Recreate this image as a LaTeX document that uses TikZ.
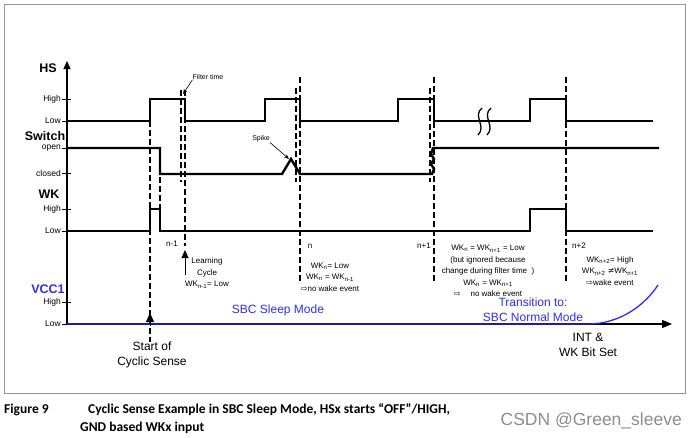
\documentclass[tikz,border=0pt]{standalone}
\usepackage{fontspec}
\setmainfont{Liberation Sans}
\newfontfamily\capfont{Carlito}
\newfontfamily\symfont{DejaVu Sans}
\usetikzlibrary{arrows.meta}

\definecolor{vccblue}{RGB}{45,45,250}
\definecolor{framegray}{RGB}{150,150,150}

\tikzset{
  sig/.style={line width=2.4pt, line join=miter},
  marker/.style={line width=1.6pt, dash pattern=on 6pt off 3pt},
  lvl/.style={anchor=east, font=\fontsize{8.5}{8.5}\selectfont, inner sep=0pt},
  axlabel/.style={font=\fontsize{12.5}{12.5}\selectfont\bfseries, inner sep=0pt},
  note/.style={font=\fontsize{8}{11.5}\selectfont, align=center, inner sep=0pt},
  tiny/.style={font=\fontsize{7}{7}\selectfont, inner sep=0pt},
  big/.style={font=\fontsize{12}{15}\selectfont, align=center, inner sep=0pt},
  capnode/.style={font=\capfont\bfseries\fontsize{13.5}{13.5}\selectfont, anchor=west, inner sep=0pt},
}

\begin{document}
\begin{tikzpicture}[x=1pt, y=-1pt]
		\useasboundingbox (0,0) rectangle (692,437);
		
		% Frame
		\draw[framegray, line width=1pt] (4,4) rectangle (685,393);
		
		% Axes
		\coordinate (origin) at (67,324);
		\coordinate (ytop) at (67,61);
		\coordinate (xend) at (672,324);
		\draw[line width=1.1pt, -{Triangle[length=8pt,width=7pt]}] (origin) -- (ytop);
		\draw[line width=1.1pt, -{Triangle[length=10pt,width=8pt]}] (origin) -- (xend);
		
		% Levels
		\foreach \y/\t/\n in {99/High/hshigh, 121/Low/hslow, 148/open/swopen, 173/closed/swclosed,
		                      209/High/wkhigh, 231/Low/wklow, 302/High/vcchigh, 324/Low/vcclow} {
			\draw[line width=1pt] (62,\y) -- (71,\y);
			\node[lvl] (\n) at (61,\y) {\t};
		}
		\node[axlabel] (hs) at (48,68) {HS};
		\node[axlabel] (switch) at (45,136) {Switch};
		\node[axlabel] (wk) at (49,194) {WK};
		\node[axlabel, text=vccblue] (vcc) at (48,289) {VCC1};
		
		% Dashed lines
		\draw[marker] (150,121) -- (150,342);
		\draw[marker] (160,150) -- (160,231);
		\draw[marker] (181,90) -- (181,182);
		\draw[marker] (185,90) -- (185,246);
		\draw[marker] (296,88) -- (296,182);
		\draw[marker] (300,77) -- (300,283);
		\draw[marker] (430,88) -- (430,182);
		\draw[marker] (434,77) -- (434,283);
		\draw[marker] (566,77) -- (566,283);
		
		% HS
		\draw[sig] (67,121) -- (150,121) -- (150,99) -- (185,99) -- (185,121) -- (265,121) -- (265,99)
			-- (300,99) -- (300,121) -- (398,121) -- (398,99) -- (434,99) -- (434,121) -- (530,121)
			-- (530,99) -- (566,99) -- (566,121) -- (653,121);
		\draw[line width=1.3pt] (482,108) .. controls (472,116) and (487,126) .. (478,135);
		\draw[line width=1.3pt] (491,108) .. controls (481,116) and (496,126) .. (487,135);
		
		% Switch
		\draw[sig] (67,148) -- (160,148) -- (160,174) -- (282,174) -- (291,159) -- (300,174) -- (432,174)
			-- (434,169) -- (431,164) -- (434,159) -- (431,154) -- (433,148) -- (659,148);
		
		% WK
		\draw[sig] (67,231) -- (150,231) -- (150,209) -- (160,209) -- (160,231) -- (530,231) -- (530,209)
			-- (566,209) -- (566,231) -- (653,231);
		
		% VCC1
		\draw[vccblue, line width=1.3pt] (origin) -- (588,324) .. controls (620,324) and (645,305) .. (658,285);
		
		% Filter time and spike
		\node[tiny] (filter) at (208,77) {Filter time};
		\coordinate (fpt) at (183,94);
		\draw[line width=0.6pt, -{Stealth[length=5pt,width=4pt]}] (filter.south west) -- (fpt);
		\node[tiny] (spike) at (261,139) {Spike};
		\coordinate (spk) at (289,159);
		\draw[line width=0.6pt, -{Stealth[length=5pt,width=4pt]}] (spike.south east) -- (spk);
		
		% Arrows
		\coordinate (csbase) at (150,326);
		\coordinate (cstip) at (150,313);
		\draw[line width=1pt, -{Triangle[length=9pt,width=8pt]}] (csbase) -- (cstip);
		\coordinate (lcbase) at (185,275);
		\coordinate (lctip) at (185,250);
		\draw[line width=1pt, -{Triangle[length=8pt,width=7pt]}] (lcbase) -- (lctip);
		
		% Samples
		\node[note] (nm1) at (172,244) {n-1};
		\node[note] (learn) at (207,273) {Learning\\Cycle\\WK\textsubscript{n-1}= Low};
		\node[note] (n0) at (310,246) {n};
		\node[note] (wkn) at (330,277) {WK\textsubscript{n}= Low\\WK\textsubscript{n} = WK\textsubscript{n-1}\\{\symfont ⇨}no wake event};
		\node[note] (np1) at (424,246) {n+1};
		\node[note] (wkn1) at (488,271) {WK\textsubscript{n} = WK\textsubscript{n+1} = Low\\(but ignored because\\change during filter time~~)\\WK\textsubscript{n} = WK\textsubscript{n+1}\\{\symfont ⇨}\hspace{10pt}no wake event};
		\node[note] (np2) at (579,246) {n+2};
		\node[note] (wkn2) at (610,271) {WK\textsubscript{n+2}= High\\WK\textsubscript{n+2} {\symfont ≠}WK\textsubscript{n+1}\\{\symfont ⇨}wake event};
		
		% Texts
		\node[big, text=vccblue] (sleep) at (278,310) {SBC Sleep Mode};
		\node[big, text=vccblue] (trans) at (533,310) {Transition to:\\SBC Normal Mode};
		\node[big] (start) at (152,355) {Start of\\Cyclic Sense};
		\node[big] (intwk) at (588,345) {INT \&\\WK Bit Set};
		
		% Caption
		\node[capnode] (fig) at (4,410) {Figure 9};
		\node[capnode] (capa) at (88,410) {Cyclic Sense Example in SBC Sleep Mode, HSx starts “OFF”/HIGH,};
		\node[capnode] (capb) at (80,428) {GND based WKx input};
		\node[anchor=east, inner sep=0pt, text=black!45, font=\fontsize{17.5}{17.5}\selectfont] (mark) at (682,421) {CSDN @Green\_sleeve};
	\end{tikzpicture}
\end{document}
